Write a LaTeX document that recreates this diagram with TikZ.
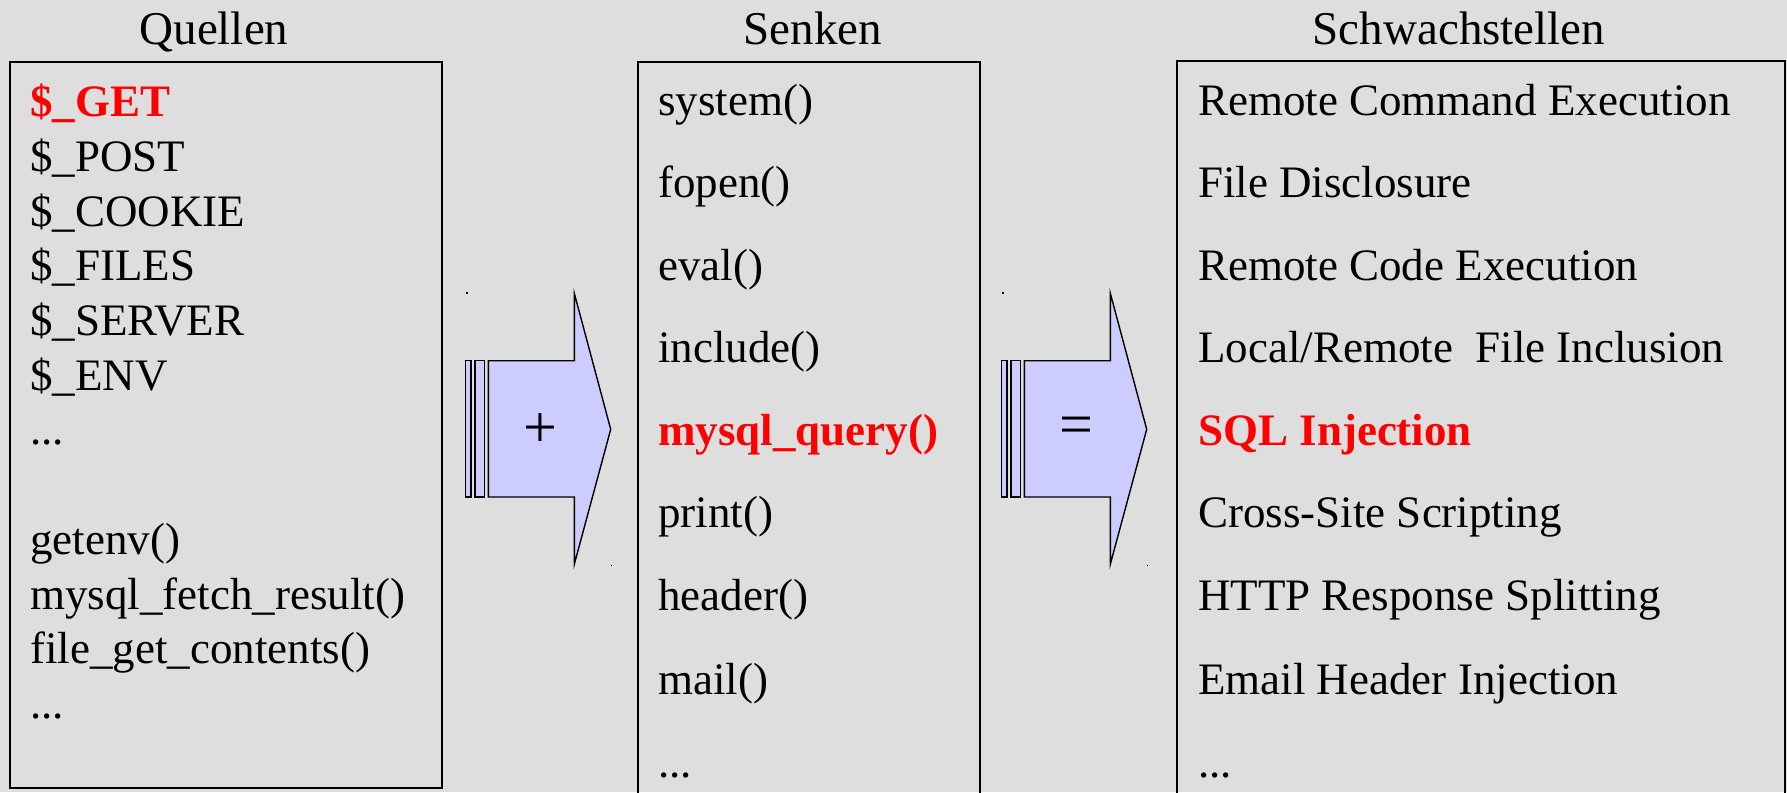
\documentclass[tikz,border=0pt]{standalone}
\usepackage{fontspec}
\setmainfont{Liberation Serif}
\definecolor{bg}{HTML}{DEDEDE}
\definecolor{arrowfill}{HTML}{CCCCFF}
\definecolor{hot}{HTML}{FF0000}
\tikzset{
  title/.style={anchor=base, inner sep=0pt, font=\fontsize{47}{56}\selectfont},
  item/.style={anchor=base west, inner sep=0pt, font=\fontsize{45}{54}\selectfont},
  hotitem/.style={item, text=hot, font=\fontsize{45}{54}\selectfont\bfseries},
  listbox/.style={draw=black, line width=1.5pt, fill=none},
  bigarrow/.style={draw=black, line width=1.4pt, fill=arrowfill, line join=miter},
  opsign/.style={anchor=center, inner sep=0pt, font=\fontsize{60}{60}\selectfont},
  speck/.style={fill=black, draw=none}
}
\begin{document}
\begin{tikzpicture}[x=1pt, y=-1pt]
\fill[bg] (0,0) rectangle (1787,792);
\useasboundingbox (0,0) rectangle (1787,792);
\clip (0,0) rectangle (1787,792);

% titles
\node[title] (tq) at (214,45) {Quellen};
\node[title] (ts) at (813,45) {Senken};
\node[title] (tw) at (1459,45) {Schwachstellen};

% boxes
\draw[listbox] (10,62) rectangle (442,788);
\draw[listbox] (638,62) rectangle (980,820);
\draw[listbox] (1177,61) rectangle (1785,820);

% sources
\node[hotitem] (q1) at (30,116.7) {\$\_GET};
\node[item] (q2) at (30,171.4) {\$\_POST};
\node[item] (q3) at (30,226.1) {\$\_COOKIE};
\node[item] (q4) at (30,280.8) {\$\_FILES};
\node[item] (q5) at (30,335.5) {\$\_SERVER};
\node[item] (q6) at (30,390.2) {\$\_ENV};
\node[item] (q7) at (30,444.9) {...};
\node[item] (q8) at (30,554.3) {getenv()};
\node[item] (q9) at (30,609.0) {mysql\_fetch\_result()};
\node[item] (q10) at (30,663.7) {file\_get\_contents()};
\node[item] (q11) at (30,718.4) {...};

% sinks
\node[item] (s1) at (658,115) {system()};
\node[item] (s2) at (658,197.5) {fopen()};
\node[item] (s3) at (658,280) {eval()};
\node[item] (s4) at (658,362.5) {include()};
\node[hotitem] (s5) at (658,445) {mysql\_query()};
\node[item] (s6) at (658,527.5) {print()};
\node[item] (s7) at (658,610) {header()};
\node[item] (s8) at (658,694) {mail()};
\node[item] (s9) at (658,777) {...};

% vulnerabilities
\node[item] (w1) at (1198,115) {Remote Command Execution};
\node[item] (w2) at (1198,197.5) {File Disclosure};
\node[item] (w3) at (1198,280) {Remote Code Execution};
\node[item] (w4) at (1198,362.5) {Local/Remote\ \ File Inclusion};
\node[hotitem] (w5) at (1198,445) {SQL Injection};
\node[item] (w6) at (1198,527.5) {Cross-Site Scripting};
\node[item] (w7) at (1198,610) {HTTP Response Splitting};
\node[item] (w8) at (1198,694) {Email Header Injection};
\node[item] (w9) at (1198,777) {...};

% arrows
\foreach \dx/\sym/\nm in {0/{+}/plus, 536/{=}/equals} {
  \begin{scope}[xshift=\dx]
    \draw[bigarrow] (465.7,360.7) rectangle (471,497);
    \draw[bigarrow] (475,360.7) rectangle (484.3,497);
    \draw[bigarrow] (488.3,360.7) -- (574.3,360.7) -- (574.3,293.3) -- (610.7,429.3)
      -- (574.3,564.3) -- (574.3,497) -- (488.3,497) -- cycle;
    \node[opsign] (\nm) at (540,431) {\sym};
    \fill[speck] (466,292) rectangle (467.5,293.5);
    \fill[speck] (610.5,564.5) rectangle (612,566);
  \end{scope}
}
\end{tikzpicture}
\end{document}
